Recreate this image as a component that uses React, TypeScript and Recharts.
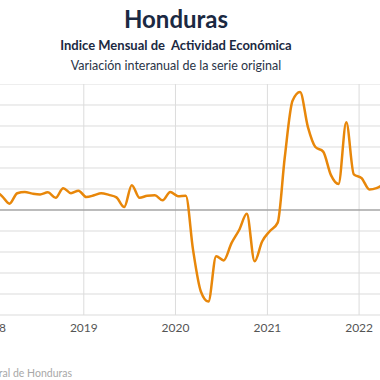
import { LineChart, Line, XAxis, YAxis, CartesianGrid, ReferenceLine } from "recharts";

// Indice Mensual de Actividad Económica, variación interanual (%), ene 2018 - abr 2022
const startYear = 2018;
const imae = [
  4.8, 3.2, 1.5, 4.0, 4.3, 3.9, 3.7, 4.2, 2.9, 5.2, 4.0, 4.6,
  3.1, 3.5, 4.0, 3.6, 3.0, 0.7, 5.9, 2.9, 3.4, 3.5, 2.3, 4.3,
  3.3, 3.4, -9.5, -19.4, -21.8, -11.0, -12.0, -7.9, -4.7, -0.9, -12.2, -7.5,
  -5.0, -3.0, 12.5, 26.0, 28.1, 19.8, 15.0, 13.9, 8.3, 6.2, 20.9, 8.5,
  7.6, 4.9, 5.2, 6.2,
];
const yearTicks = [2018, 2019, 2020, 2021, 2022];
const yTicks = [-25, -20, -15, -10, -5, 0, 5, 10, 15, 20, 25, 30];

// data points are dated on the 11th of each month
const data = imae.map((v, i) => ({
  t: Date.UTC(startYear + Math.floor(i / 12), i % 12, 11),
  v,
}));

const YEAR_MS = 365.25 * 864e5;
const PX_PER_YEAR = 91.75;
const xDomain = [Date.UTC(2017, 9, 1), Date.UTC(2022, 6, 1)];
const plotW = ((xDomain[1] - xDomain[0]) / YEAR_MS) * PX_PER_YEAR;
const plotLeft = 83.5 - ((Date.UTC(2019, 0, 1) - xDomain[0]) / YEAR_MS) * PX_PER_YEAR;
const plotTop = 84.3;
const plotH = 231;
const axisH = 30;

const font = "Lato, 'Open Sans', sans-serif";

export default function App() {
  return (
    <div
      style={{
        position: "fixed",
        left: 0,
        top: 0,
        width: 380,
        height: 380,
        overflow: "hidden",
        background: "#fff",
        fontFamily: font,
      }}
    >
      <div style={{ position: "absolute", left: 0, width: 352, top: 4, textAlign: "center", fontSize: 24, fontWeight: 700, color: "#1b2942" }}>
        Honduras
      </div>
      <div style={{ position: "absolute", left: 0, width: 352, top: 37, textAlign: "center", fontSize: 13, fontWeight: 700, color: "#1b2942", whiteSpace: "pre" }}>
        Indice Mensual de  Actividad Económica
      </div>
      <div style={{ position: "absolute", left: 0, width: 352, top: 58, textAlign: "center", fontSize: 12.5, color: "#2a3447" }}>
        Variación interanual de la serie original
      </div>

      <div style={{ position: "absolute", left: plotLeft, top: plotTop }}>
        <LineChart
          width={plotW}
          height={plotH + axisH}
          data={data}
          margin={{ top: 0, right: 0, left: 0, bottom: 0 }}
        >
          <CartesianGrid stroke="#dcdcdc" strokeWidth={1} />
          <XAxis
            dataKey="t"
            type="number"
            scale="time"
            domain={xDomain}
            ticks={yearTicks.map((y) => Date.UTC(y, 0, 1))}
            tickFormatter={(t) => String(new Date(t).getUTCFullYear())}
            axisLine={false}
            tickLine={false}
            height={axisH}
            tick={{ fill: "#555", fontSize: 12, fontFamily: font }}
            interval={0}
          />
          <YAxis hide domain={[-25, 30]} ticks={yTicks} interval={0} />
          <ReferenceLine y={0} stroke="#8a8a8a" strokeWidth={1.2} />
          <Line
            type="monotone"
            dataKey="v"
            stroke="#e8870a"
            strokeWidth={2.5}
            dot={false}
            isAnimationActive={false}
          />
        </LineChart>
      </div>

      <div style={{ position: "absolute", right: 308, top: 367, fontSize: 10.5, color: "#a8a8a8", whiteSpace: "nowrap" }}>
        Fuente: Banco Central de Honduras
      </div>
    </div>
  );
}
